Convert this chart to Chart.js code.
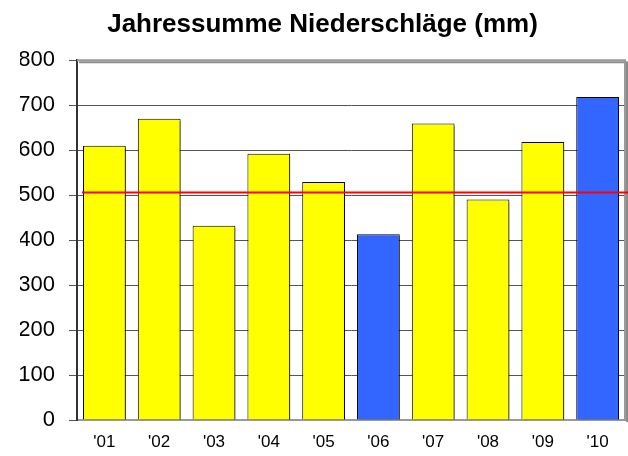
<!DOCTYPE html>
<html>
<head>
<meta charset="utf-8">
<script src="https://cdn.jsdelivr.net/npm/chart.js@4/dist/chart.umd.min.js"></script>
<style>
  html, body { margin: 0; padding: 0; background: #fff; }
  #wrap { width: 628px; height: 456px; }
</style>
</head>
<body>
<div id="wrap"><canvas id="chart" width="628" height="456"></canvas></div>
<script>
// Jahressummen Niederschlag 2001-2010
const years = ["'01", "'02", "'03", "'04", "'05", "'06", "'07", "'08", "'09", "'10"];
const rainfall = [610, 670, 432, 592, 529, 413, 659, 490, 618, 718];
const barColors = ['#FFFF00', '#FFFF00', '#FFFF00', '#FFFF00', '#FFFF00',
                   '#3366FF', '#FFFF00', '#FFFF00', '#FFFF00', '#3366FF'];
const average = 506;
const yTicks = [0, 100, 200, 300, 400, 500, 600, 700, 800];

// shadow under the bars, like the old Excel look
const barShadow = {
    id: 'barShadow',
    beforeDatasetsDraw(chart) {
        const ctx = chart.ctx;
        ctx.save();
        ctx.shadowColor = 'rgba(0,0,0,0.45)';
        ctx.shadowOffsetX = 2;
        ctx.shadowOffsetY = 2;
        ctx.shadowBlur = 0;
    },
    afterDatasetsDraw(chart) {
        chart.ctx.restore();
    }
};

// red average line + grey frame on top/right
const extras = {
    id: 'extras',
    afterDatasetsDraw(chart) {
        const ctx = chart.ctx;
        const area = chart.chartArea;
        const y = chart.scales.y.getPixelForValue(average);
        ctx.save();
        ctx.strokeStyle = '#FF0000';
        ctx.lineWidth = 2;
        ctx.beginPath();
        ctx.moveTo(area.left + 5, y);
        ctx.lineTo(area.right + 3, y);
        ctx.stroke();
        ctx.restore();
    },
    beforeDatasetsDraw(chart) {
        const ctx = chart.ctx;
        const area = chart.chartArea;
        ctx.save();
        ctx.strokeStyle = '#999999';
        ctx.lineWidth = 2;
        ctx.beginPath();
        ctx.moveTo(area.left, area.top);
        ctx.lineTo(area.right, area.top);
        ctx.lineTo(area.right, area.bottom);
        ctx.stroke();
        ctx.restore();
    }
};

new Chart(document.getElementById('chart'), {
    type: 'bar',
    data: {
        labels: years,
        datasets: [{
            data: rainfall,
            backgroundColor: barColors,
            borderColor: '#000000',
            borderWidth: 1,
            categoryPercentage: 0.78,
            barPercentage: 1.0
        }]
    },
    options: {
        responsive: false,
        animation: false,
        layout: { padding: { left: 20, right: 3, top: 0, bottom: 0 } },
        plugins: {
            legend: { display: false },
            tooltip: { enabled: false },
            title: {
                display: true,
                text: 'Jahressumme Niederschläge (mm)',
                color: '#000',
                font: { family: 'Liberation Sans, Arial, sans-serif', size: 26, weight: 'bold', lineHeight: 1.2 },
                padding: { top: 9, bottom: 20 }
            }
        },
        scales: {
            x: {
                grid: { display: false, drawTicks: false },
                border: { color: '#999999', width: 2 },
                ticks: {
                    color: '#000',
                    font: { family: 'Liberation Sans, Arial, sans-serif', size: 17 },
                    padding: 12
                },
                afterFit(scale) { scale.height = 36; }
            },
            y: {
                min: 0,
                max: 800,
                afterBuildTicks(scale) { scale.ticks = yTicks.map(v => ({ value: v })); },
                grid: { color: '#555555', lineWidth: 1, tickLength: 8, tickColor: '#555555' },
                border: { color: '#333333', width: 2 },
                ticks: {
                    color: '#000',
                    font: { family: 'Liberation Sans, Arial, sans-serif', size: 22 },
                    padding: 14
                },
                afterFit(scale) { scale.width = 57; }
            }
        }
    },
    plugins: [barShadow, extras]
});
</script>
</body>
</html>
